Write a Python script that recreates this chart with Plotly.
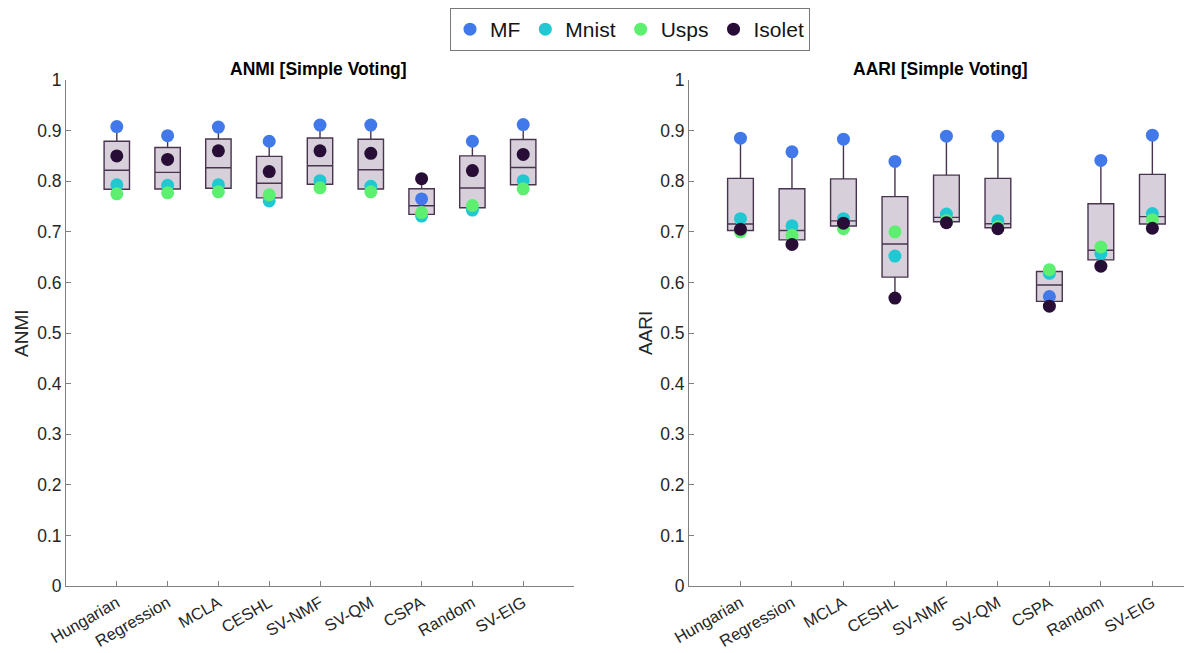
import plotly.graph_objects as go

methods = ["Hungarian", "Regression", "MCLA", "CESHL", "SV-NMF", "SV-QM", "CSPA", "Random", "SV-EIG"]
series_names = ["MF", "Mnist", "Usps", "Isolet"]

anmi_mf     = [0.908, 0.890, 0.907, 0.879, 0.911, 0.911, 0.765, 0.879, 0.912]
anmi_mnist  = [0.793, 0.792, 0.793, 0.761, 0.801, 0.790, 0.731, 0.743, 0.801]
anmi_usps   = [0.775, 0.777, 0.779, 0.773, 0.787, 0.779, 0.738, 0.752, 0.785]
anmi_isolet = [0.850, 0.843, 0.860, 0.819, 0.860, 0.855, 0.805, 0.821, 0.853]

aari_mf     = [0.885, 0.858, 0.883, 0.839, 0.889, 0.889, 0.572, 0.841, 0.891]
aari_mnist  = [0.726, 0.712, 0.726, 0.652, 0.735, 0.722, 0.618, 0.657, 0.736]
aari_usps   = [0.700, 0.693, 0.706, 0.700, 0.722, 0.710, 0.625, 0.670, 0.724]
aari_isolet = [0.705, 0.675, 0.717, 0.569, 0.718, 0.706, 0.553, 0.632, 0.707]

y_ticks = [0, 0.1, 0.2, 0.3, 0.4, 0.5, 0.6, 0.7, 0.8, 0.9, 1]
y_tick_labels = ["0", "0.1", "0.2", "0.3", "0.4", "0.5", "0.6", "0.7", "0.8", "0.9", "1"]

colors = ["rgb(66,121,234)", "rgb(32,201,210)", "rgb(93,240,112)", "rgb(40,14,54)"]
FONT = "Liberation Sans, Arial, Helvetica, sans-serif"

pos = list(range(1, len(methods) + 1))

fig = go.Figure()

panels = [
    ("x", "y", [anmi_mf, anmi_mnist, anmi_usps, anmi_isolet]),
    ("x2", "y2", [aari_mf, aari_mnist, aari_usps, aari_isolet]),
]

for pi, (xa, ya, data) in enumerate(panels):
    bx, by = [], []
    for s in data:
        bx += pos
        by += s
    fig.add_trace(go.Box(
        x=bx, y=by, xaxis=xa, yaxis=ya,
        boxpoints=False, quartilemethod="inclusive",
        width=0.5, whiskerwidth=0,
        fillcolor="rgb(215,208,219)",
        line=dict(color="rgb(72,52,78)", width=1.4),
        showlegend=False, hoverinfo="skip",
    ))
    for si, s in enumerate(data):
        fig.add_trace(go.Scatter(
            x=pos, y=s, xaxis=xa, yaxis=ya, mode="markers",
            name=series_names[si], legendgroup=series_names[si],
            showlegend=(pi == 0),
            marker=dict(color=colors[si], size=13, line=dict(width=0)),
        ))

# page has an 8px body margin; figure coordinates = page coordinates - 8
W, H = 1184, 645
OFF = 8

def px_x(p):
    return (p - OFF) / W

def px_y(p):
    return (H - (p - OFF)) / H

ydom = [px_y(586), px_y(80)]

axis_common = dict(
    showline=True, linecolor="rgb(128,128,128)", linewidth=1,
    showgrid=False, zeroline=False, mirror=False,
    ticks="inside", ticklen=5, tickcolor="rgb(128,128,128)",
    automargin=False,
)
xfont = dict(family=FONT, size=16.5, color="rgb(38,38,38)")
yfont = dict(family=FONT, size=17.5, color="rgb(38,38,38)")

fig.update_layout(
    width=W, height=H,
    margin=dict(l=0, r=0, t=0, b=0),
    plot_bgcolor="white", paper_bgcolor="white",
    font=dict(family=FONT, color="rgb(38,38,38)"),
    xaxis=dict(domain=[px_x(66), px_x(574)], range=[0, 10], anchor="y",
               tickvals=pos, ticktext=methods, tickangle=-30, tickfont=xfont,
               **axis_common),
    yaxis=dict(domain=ydom, range=[0, 1], anchor="x",
               tickvals=y_ticks, ticktext=y_tick_labels, tickfont=yfont,
               **axis_common),
    xaxis2=dict(domain=[px_x(689), 1.0], range=[0, 9.77], anchor="y2",
                tickvals=pos, ticktext=methods, tickangle=-30, tickfont=xfont,
                **axis_common),
    yaxis2=dict(domain=ydom, range=[0, 1], anchor="x2",
                tickvals=y_ticks, ticktext=y_tick_labels, tickfont=yfont,
                **axis_common),
    legend=dict(
        orientation="h", x=px_x(630), xanchor="center", y=1.0, yanchor="top",
        bordercolor="rgb(120,120,120)", borderwidth=1, bgcolor="white",
        font=dict(family=FONT, size=21, color="rgb(20,20,20)"),
        tracegroupgap=0,
    ),
    annotations=[
        dict(text="<b>ANMI [Simple Voting]</b>", x=px_x(318), y=px_y(69),
             xref="paper", yref="paper", showarrow=False,
             xanchor="center", yanchor="middle",
             font=dict(family=FONT, size=17.5, color="black")),
        dict(text="<b>AARI [Simple Voting]</b>", x=px_x(940), y=px_y(69),
             xref="paper", yref="paper", showarrow=False,
             xanchor="center", yanchor="middle",
             font=dict(family=FONT, size=17.5, color="black")),
        dict(text="ANMI", x=px_x(21), y=px_y(333), xref="paper", yref="paper",
             showarrow=False, textangle=-90, xanchor="center", yanchor="middle",
             font=dict(family=FONT, size=19, color="rgb(38,38,38)")),
        dict(text="AARI", x=px_x(645), y=px_y(333), xref="paper", yref="paper",
             showarrow=False, textangle=-90, xanchor="center", yanchor="middle",
             font=dict(family=FONT, size=19, color="rgb(38,38,38)")),
    ],
)

fig.write_html("out.html")
